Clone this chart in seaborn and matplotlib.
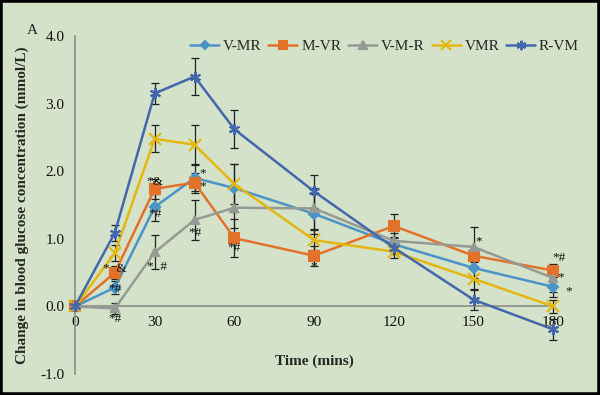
import pandas as pd
import seaborn as sns
import matplotlib.pyplot as plt

# Mean change in blood glucose (mmol/L) and error
time = [0, 15, 30, 45, 60, 90, 120, 150, 180]
groups = ["V-MR", "M-VR", "V-M-R", "VMR", "R-VM"]

v_mr = [0, 0.28, 1.47, 1.90, 1.75, 1.37, 0.92, 0.57, 0.29]
m_vr = [0, 0.50, 1.74, 1.83, 1.01, 0.75, 1.19, 0.75, 0.53]
v_m_r = [0, -0.03, 0.80, 1.28, 1.46, 1.45, 0.97, 0.88, 0.42]
vmr = [0, 0.79, 2.48, 2.39, 1.81, 0.98, 0.81, 0.41, 0.00]
r_vm = [0, 1.09, 3.15, 3.40, 2.62, 1.70, 0.87, 0.10, -0.34]

v_mr_err = [0, 0.10, 0.20, 0.20, 0.35, 0.30, 0.10, 0.15, 0.15]
m_vr_err = [0, 0.10, 0.15, 0.15, 0.28, 0.15, 0.18, 0.10, 0.10]
v_m_r_err = [0, 0.08, 0.25, 0.30, 0.30, 0.30, 0.12, 0.30, 0.20]
vmr_err = [0, 0.12, 0.20, 0.30, 0.30, 0.15, 0.10, 0.15, 0.10]
r_vm_err = [0, 0.12, 0.15, 0.28, 0.28, 0.25, 0.10, 0.15, 0.15]

# significance marks: (time, y, text)
marks = [
    (15, 0.55, "*  &"), (15, 0.26, "*#"), (15, -0.18, "*#"),
    (30, 1.84, "*&"), (30, 1.36, "*#"), (31, 0.58, "*  #"),
    (48, 1.97, "*"), (48, 1.78, "*"), (45, 1.08, "*#"),
    (60, 0.86, "*#"), (90, 0.60, "*"), (152, 0.97, "*"),
    (182, 0.72, "*#"), (183, 0.43, "*"), (186, 0.22, "*"),
]

values = [v_mr, m_vr, v_m_r, vmr, r_vm]
errors = [v_mr_err, m_vr_err, v_m_r_err, vmr_err, r_vm_err]

rows = []
for g, vals, errs in zip(groups, values, errors):
    for t, v, e in zip(time, vals, errs):
        rows.append({"Time": t, "Change": v, "err": e, "Group": g})
df = pd.DataFrame(rows)

colors = {"V-MR": "#4a94c8", "M-VR": "#e2722a", "V-M-R": "#969a94",
          "VMR": "#e4b70e", "R-VM": "#4466ab"}
markers = {"V-MR": "D", "M-VR": "s", "V-M-R": "^", "VMR": "x", "R-VM": (6, 2, 0)}
msize = {"V-MR": 5, "M-VR": 7, "V-M-R": 6, "VMR": 8, "R-VM": 8}

bg = "#d3e2c9"
sns.set_style("white")
plt.rcParams["font.family"] = ["Liberation Serif", "DejaVu Serif"]

fig = plt.figure(figsize=(6, 3.95), dpi=100, facecolor=bg)
ax = fig.add_axes([0.125, 0.053, 0.797, 0.856])
ax.set_facecolor(bg)

# error bars first, lines on top
for g in groups:
    d = df[df["Group"] == g]
    ax.errorbar(d["Time"], d["Change"], yerr=d["err"], fmt="none",
                ecolor="#222222", elinewidth=0.9, capsize=3, capthick=0.9,
                zorder=2, clip_on=False)

for g in groups:
    d = df[df["Group"] == g]
    sns.lineplot(data=d, x="Time", y="Change", color=colors[g], marker=markers[g],
                 markersize=msize[g], markeredgecolor=colors[g], markeredgewidth=1.5,
                 linewidth=1.8, label=g, ax=ax, zorder=3, clip_on=False)

for t, y, s in marks:
    ax.text(t, y, s, ha="center", va="center", fontsize=9.5, color="#111111")

ax.set_xlim(0, 180)
ax.set_ylim(-1, 4)
ax.set_xticks([0, 30, 60, 90, 120, 150, 180])
ax.set_yticks([-1, 0, 1, 2, 3, 4])
ax.set_yticklabels(["-1.0", "0.0", "1.0", "2.0", "3.0", "4.0"])

for side in ["top", "right"]:
    ax.spines[side].set_visible(False)
ax.spines["bottom"].set_position(("data", 0))
for side in ["left", "bottom"]:
    ax.spines[side].set_color("#8a8f88")
    ax.spines[side].set_linewidth(1.2)
ax.tick_params(axis="both", colors="#8a8f88", length=4, width=1,
               labelsize=11, labelcolor="#111111", direction="out")
ax.tick_params(axis="x", pad=3)

ax.set_xlabel("Time (mins)", fontsize=11, fontweight="bold", labelpad=0)
ax.xaxis.set_label_coords(0.5, 0.058)
ax.set_ylabel("Change in blood glucose concentration (mmol/L)",
              fontsize=11, fontweight="bold", labelpad=8)

ax.legend(loc="center left", bbox_to_anchor=(190 / 600, 1 - 46 / 395),
          bbox_transform=fig.transFigure, ncol=5, frameon=False, fontsize=11,
          handlelength=1.9, handletextpad=0.25, columnspacing=0.45,
          borderpad=0, borderaxespad=0, markerscale=0.85)

fig.text(0.045, 0.915, "A", fontsize=11)

# black frame round the whole figure
fig.patches.append(plt.Rectangle((0, 0), 1, 1, transform=fig.transFigure,
                                 fill=False, edgecolor="black", linewidth=4))

fig.savefig("out.png", dpi=100, facecolor=bg)
